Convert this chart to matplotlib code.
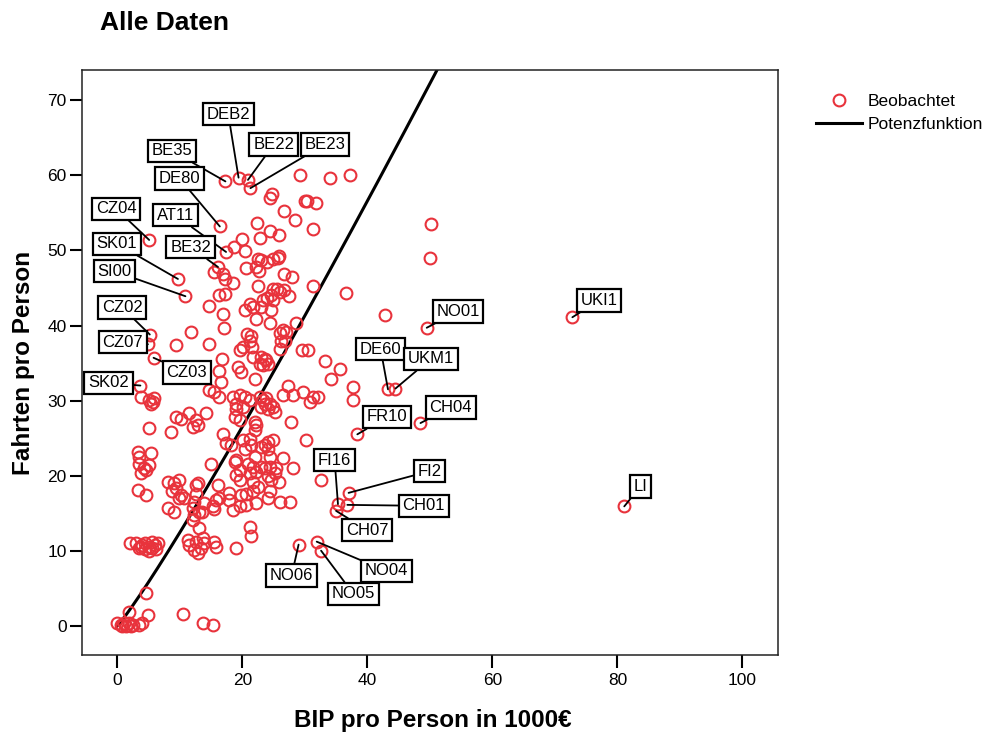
import numpy as np
import matplotlib.pyplot as plt

plt.rcParams['font.family'] = ['Liberation Sans', 'DejaVu Sans']

# BIP pro Person (1000 EUR) und Fahrten pro Person je Region, grob nach Fahrten sortiert
bip = [
    29.3, 34.1, 37.3, 24.8, 24.4, 30.0, 30.3, 31.8, 26.7, 28.5, 31.3, 22.3, 24.4, 22.9, 25.9, 50.2,
    19.9, 18.6, 20.4, 22.5, 23.0, 23.9, 24.9, 25.9, 25.7, 20.6, 22.2, 22.6, 15.5, 16.9, 17.3, 18.5,
    26.6, 27.9, 31.3, 22.5, 50.0,
    36.6, 16.2, 17.3, 24.9, 25.5, 24.6, 26.0, 26.6, 27.4, 23.3, 23.9, 24.9, 21.3, 21.7, 23.0, 14.6,
    16.9, 24.6, 20.4, 22.2, 28.6, 17.1, 24.4, 26.5, 26.0, 27.0, 20.7, 21.4, 11.8, 42.9,
    26.2, 26.8, 26.0, 21.2, 20.1, 19.6, 21.6, 9.4, 14.7, 23.0, 23.6, 23.8, 22.8, 23.3, 24.1, 21.7,
    29.6, 30.5, 33.2, 16.8, 16.3, 16.6, 19.3, 19.8, 22.0, 35.6, 34.2,
    27.3, 26.5, 28.1, 29.7, 31.3, 32.1, 30.8, 37.7, 37.7, 14.7, 15.5, 16.3, 18.5, 19.6, 20.4, 21.2,
    19.0, 20.1, 22.8, 23.3, 23.6, 23.8, 24.4, 23.0, 24.1, 24.9, 25.2, 3.8, 5.1, 5.7, 5.9, 5.4,
    11.5, 14.2, 19.0,
    12.6, 12.9, 12.1, 9.4, 10.2, 5.1, 8.6, 16.9, 17.4, 18.8, 19.6, 22.0, 22.2, 22.0, 27.8, 30.2,
    18.2, 20.1, 21.2, 20.4, 21.4, 24.1, 23.6, 24.9, 24.1, 23.0, 22.0, 24.4, 26.5, 3.3, 5.4, 3.5,
    19.0,
    18.8, 19.6, 19.0, 20.9, 21.7, 22.2, 21.2, 23.0, 23.6, 24.4, 25.4, 25.2, 24.1, 24.6, 28.1, 19.8,
    20.6, 21.7, 22.5, 24.4, 26.0, 27.6, 24.1, 22.2, 20.6, 19.6, 18.5, 21.7, 25.9, 19.6, 21.2, 21.4,
    32.6,
    8.1, 9.1, 9.9, 9.4, 8.8, 10.2, 9.9, 10.7, 8.1, 9.1, 12.1, 12.9, 12.6, 12.3, 12.3, 13.1,
    13.6, 12.1, 13.1, 15.0, 15.3, 15.5, 15.8, 16.1, 17.8, 16.3, 17.9, 13.9, 12.6,
    3.5, 4.3, 3.8, 4.6, 5.1, 3.3, 4.6,
    19.0, 11.3, 11.5, 12.6, 13.7, 13.9, 12.3, 13.4, 15.5, 15.8, 12.9,
    2.1, 3.0, 3.5, 3.8, 4.0, 4.5, 4.5, 5.0, 5.0, 5.5, 5.5, 6.0, 6.2, 6.5,
    4.6, 1.9, 4.9, 10.5, 13.7, 15.3,
    0.0, 0.6, 1.1, 1.9, 2.5, 3.5, 1.4, 0.8, 2.2, 4.0,
]
fahrten = [
    60.0, 59.6, 60.1, 57.5, 57.0, 56.6, 56.6, 56.3, 55.3, 54.0, 52.9, 53.7, 52.6, 51.6, 52.1, 53.5,
    51.5, 50.4, 49.9, 48.9, 48.7, 48.5, 48.8, 49.3, 49.0, 47.6, 47.8, 47.3, 47.1, 46.9, 46.2, 45.6,
    46.9, 46.4, 45.3, 45.3, 49.0,
    44.3, 44.1, 44.2, 44.9, 44.9, 44.1, 44.5, 44.7, 43.9, 43.4, 43.7, 43.4, 42.9, 42.5, 42.5, 42.6,
    41.5, 42.0, 42.0, 40.9, 40.3, 39.7, 40.3, 39.4, 39.0, 39.1, 38.9, 38.6, 39.1, 41.4,
    38.0, 38.0, 36.9, 37.9, 37.1, 36.7, 37.2, 37.4, 37.6, 35.8, 35.6, 35.4, 34.9, 34.7, 34.9, 35.8,
    36.7, 36.8, 35.3, 35.6, 34.0, 32.5, 34.5, 33.8, 32.9, 34.2, 32.9,
    32.0, 30.7, 30.7, 31.2, 30.5, 30.5, 29.8, 31.8, 30.1, 31.4, 31.2, 30.5, 30.5, 30.7, 30.5, 30.1,
    29.6, 29.2, 30.5, 30.1, 29.6, 30.3, 29.6, 29.2, 28.9, 29.2, 28.5, 30.5, 30.1, 29.8, 30.3, 29.6,
    28.3, 28.3, 28.9,
    27.4, 26.7, 26.5, 27.8, 27.6, 26.3, 25.8, 25.6, 24.3, 27.8, 27.4, 27.2, 26.7, 26.1, 27.1, 24.8,
    24.1, 24.7, 24.9, 23.6, 24.1, 24.5, 24.1, 24.7, 23.6, 23.8, 22.5, 22.5, 22.3, 23.2, 23.0, 22.5,
    22.1,
    21.8, 20.7, 20.1, 21.6, 21.2, 20.5, 20.3, 21.2, 21.0, 21.2, 21.0, 20.3, 19.9, 19.4, 21.0, 17.4,
    17.6, 17.9, 18.5, 17.9, 16.5, 16.5, 17.0, 16.3, 16.1, 15.9, 15.4, 19.2, 19.2, 19.4, 13.2, 11.9,
    19.4,
    19.2, 19.0, 19.4, 18.3, 17.9, 17.4, 17.0, 17.0, 15.7, 15.2, 15.7, 19.0, 17.6, 16.5, 14.8, 15.2,
    15.2, 14.1, 13.0, 21.5, 15.9, 15.6, 16.8, 18.8, 17.7, 17.0, 16.8, 16.3, 18.8,
    21.6, 21.0, 20.3, 20.7, 21.4, 18.1, 17.4,
    10.3, 11.4, 10.8, 11.2, 11.7, 11.0, 10.1, 10.3, 11.2, 10.5, 9.7,
    11.0, 11.0, 10.3, 10.5, 10.8, 11.0, 10.2, 10.5, 10.0, 11.2, 10.3, 10.8, 10.2, 11.0,
    4.3, 1.8, 1.4, 1.5, 0.4, 0.1,
    0.4, 0.1, 0.4, 0.4, 0.1, 0.1, -0.1, -0.1, -0.1, 0.3,
]

# beschriftete Regionen
regionen = ['DEB2', 'BE22', 'BE23', 'BE35', 'DE80', 'CZ04', 'AT11', 'BE32', 'SK01', 'SI00',
            'CZ02', 'CZ07', 'CZ03', 'SK02', 'NO01', 'DE60', 'UKM1', 'CH04', 'FR10', 'FI2',
            'FI16', 'CH01', 'CH07', 'NO04', 'NO05', 'NO06', 'UKI1', 'LI']
regionen_bip = [19.4, 20.9, 21.3, 17.3, 16.4, 5.1, 17.4, 16.1, 9.7, 10.9,
                5.2, 4.9, 5.8, 3.7, 49.5, 43.3, 44.5, 48.5, 38.4, 37.0,
                35.3, 36.8, 35.0, 31.9, 32.6, 29.0, 72.8, 81.1]
regionen_fahrten = [59.7, 59.4, 58.3, 59.2, 53.2, 51.4, 49.8, 47.8, 46.2, 43.9,
                    38.8, 37.5, 35.7, 32.0, 39.7, 31.5, 31.6, 27.0, 25.5, 17.7,
                    16.2, 16.1, 15.3, 11.2, 10.0, 10.8, 41.1, 15.9]

# Versatz der Beschriftungskaesten in Punkten
versatz = {
    'DEB2': (-7.4, 45.6), 'BE22': (18.5, 25.4), 'BE23': (53.5, 31.5), 'BE35': (-38.7, 22.1),
    'DE80': (-29.0, 34.6), 'CZ04': (-23.8, 22.5), 'AT11': (-36.5, 26.4), 'BE32': (-19.7, 14.2),
    'SK01': (-44.1, 25.4), 'SI00': (-51.1, 18.0), 'CZ02': (-19.9, 19.4), 'CZ07': (-18.2, 1.4),
    'CZ03': (23.8, -10.6), 'SK02': (-23.0, 1.9), 'NO01': (22.5, 11.7), 'DE60': (-5.3, 29.0),
    'UKM1': (25.4, 21.4), 'CH04': (21.8, 11.3), 'FR10': (21.4, 12.5), 'FI2': (58.3, 15.6),
    'FI16': (-2.4, 31.7), 'CH01': (54.9, -0.7), 'CH07': (22.5, -13.9), 'NO04': (50.2, -21.1),
    'NO05': (23.3, -31.2), 'NO06': (-5.0, -22.3), 'UKI1': (19.2, 12.0), 'LI': (11.5, 14.2),
}

# Potenzfunktion y = a * x^b
fit_a = 1.0
fit_b = 1.094

rot = '#e8333c'

fig = plt.figure(figsize=(9.9, 7.38), dpi=100)
ax = fig.add_axes([0.0828, 0.1125, 0.7031, 0.7922])

alle_x = bip + regionen_bip
alle_y = fahrten + regionen_fahrten
ax.plot(alle_x, alle_y, 'o', mfc='none', mec=rot, ms=8.5, mew=1.5,
        label='Beobachtet', zorder=3, clip_on=False)

t = np.linspace(0, 60, 400)
ax.plot(t, fit_a * t ** fit_b, color='black', lw=2.2, label='Potenzfunktion', zorder=2)

for name, x, y in zip(regionen, regionen_bip, regionen_fahrten):
    ax.annotate(name, xy=(x, y), xytext=versatz[name], textcoords='offset points',
                ha='center', va='center', fontsize=12, zorder=5,
                bbox=dict(boxstyle='square,pad=0.22', fc='white', ec='black', lw=1.6),
                arrowprops=dict(arrowstyle='-', color='black', lw=1.3,
                                shrinkA=0, shrinkB=0))

ax.set_xlim(-5.65, 105.7)
ax.set_ylim(-3.9, 74.0)
ax.set_xticks(range(0, 101, 20))
ax.set_yticks(range(0, 71, 10))
ax.tick_params(length=9, width=1.5, labelsize=12.5)
ax.tick_params(axis='x', pad=4)
ax.tick_params(axis='y', pad=2)
for s in ax.spines.values():
    s.set_linewidth(1.1)
    s.set_color('#222222')

fig.text(100 / 990, 1 - 30 / 738, 'Alle Daten', fontsize=19, weight='bold',
         ha='left', va='baseline')
fig.text(432.5 / 990, 1 - 727 / 738, 'BIP pro Person in 1000€', fontsize=17.5,
         weight='bold', ha='center', va='baseline')
fig.text(12 / 990, 1 - 362.5 / 738, 'Fahrten pro Person', fontsize=17.5,
         weight='bold', rotation=90, ha='left', va='center')

ax.legend(loc='upper left', bbox_to_anchor=(816 / 990, 1 - 94 / 738),
          bbox_transform=fig.transFigure, frameon=False, borderpad=0, borderaxespad=0,
          handlelength=2.65, handletextpad=0.3, labelspacing=0.45, fontsize=12.5,
          numpoints=1)

fig.savefig('out.png', dpi=100)
